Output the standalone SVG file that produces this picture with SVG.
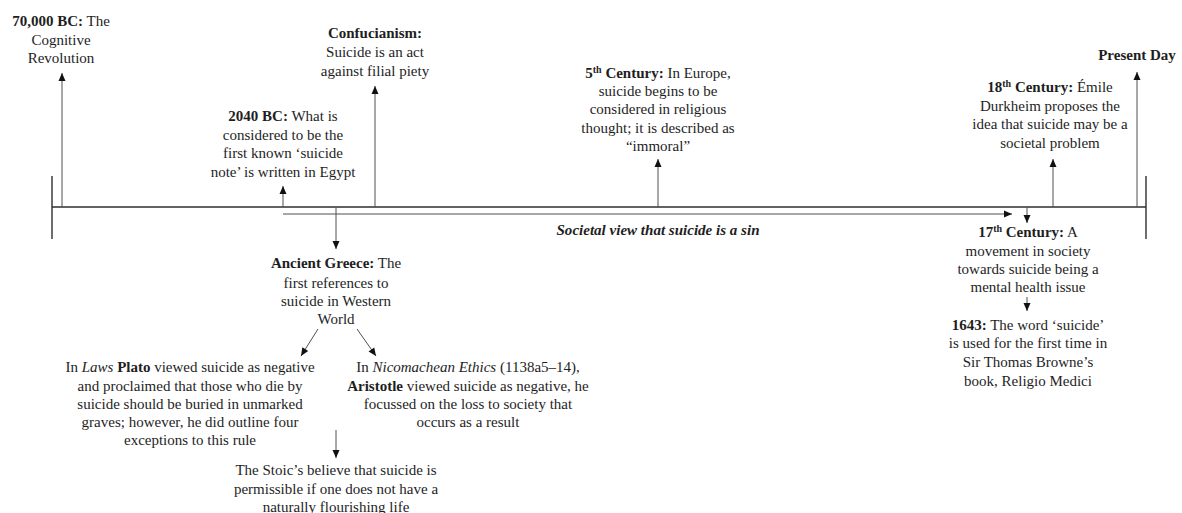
<svg xmlns="http://www.w3.org/2000/svg" width="1182" height="513" viewBox="0 0 1182 513">
  <style>
    text { font-family: "Liberation Serif", "Times New Roman", serif; font-size: 15px; fill: #1e1e1e; text-anchor: middle; }
    .b { font-weight: bold; }
    .i { font-style: italic; }
    .sup { font-size: 10px; }
    .axis { stroke: #2e2e2e; stroke-width: 1.4; fill: none; }
    .arr { stroke: #505050; stroke-width: 1; fill: none; marker-end: url(#head); }
    .era { stroke: #505050; stroke-width: 1.2; fill: none; marker-end: url(#head); }
  </style>
  <defs>
    <marker id="head" markerUnits="userSpaceOnUse" markerWidth="10" markerHeight="10" viewBox="0 0 10 10" refX="9" refY="5" orient="auto">
      <path d="M1,1.5 L9,5 L1,8.5 Z" fill="#111"/>
    </marker>
  </defs>

  <!-- timeline axis and end ticks -->
  <g id="axis">
    <line class="axis" x1="52" y1="207" x2="1146" y2="207"/>
    <line class="axis" x1="52" y1="176" x2="52" y2="239"/>
    <line class="axis" x1="1146" y1="176" x2="1146" y2="239"/>
  </g>

  <!-- connectors -->
  <g id="connectors">
    <line class="era" x1="283" y1="214" x2="1012" y2="214"/>
    <line class="arr" x1="62" y1="207" x2="62" y2="73"/>
    <line class="arr" x1="283" y1="207" x2="283" y2="186"/>
    <line class="arr" x1="375" y1="207" x2="375" y2="86"/>
    <line class="arr" x1="336" y1="207" x2="336" y2="249"/>
    <line class="arr" x1="318" y1="329" x2="301" y2="356"/>
    <line class="arr" x1="357" y1="329" x2="376" y2="356"/>
    <line class="arr" x1="336" y1="430" x2="336" y2="458"/>
    <line class="arr" x1="658" y1="207" x2="658" y2="159"/>
    <line class="arr" x1="1053" y1="207" x2="1053" y2="159"/>
    <line class="arr" x1="1137" y1="207" x2="1137" y2="72"/>
    <line class="arr" x1="1027" y1="207" x2="1027" y2="223"/>
    <line class="arr" x1="1027" y1="297" x2="1027" y2="311"/>
  </g>

  <g id="era-label">
    <text class="b i" x="658" y="235" textLength="203" lengthAdjust="spacingAndGlyphs">Societal view that suicide is a sin</text>
  </g>

  <g id="n-70000bc">
    <text x="61" y="26"><tspan class="b">70,000 BC:</tspan> The</text>
    <text x="61" y="44.5">Cognitive</text>
    <text x="61" y="63">Revolution</text>
  </g>

  <g id="n-2040bc">
    <text x="283" y="121"><tspan class="b">2040 BC:</tspan> What is</text>
    <text x="283" y="140">considered to be the</text>
    <text x="283" y="158">first known ‘suicide</text>
    <text x="283" y="177">note’ is written in Egypt</text>
  </g>

  <g id="n-confucianism">
    <text class="b" x="375" y="38">Confucianism:</text>
    <text x="375" y="57">Suicide is an act</text>
    <text x="375" y="76">against filial piety</text>
  </g>

  <g id="n-5th">
    <text x="658" y="78"><tspan class="b">5</tspan><tspan class="b sup" dy="-5">th</tspan><tspan class="b" dy="5"> Century:</tspan> In Europe,</text>
    <text x="658" y="96">suicide begins to be</text>
    <text x="658" y="114">considered in religious</text>
    <text x="658" y="133">thought; it is described as</text>
    <text x="658" y="151">“immoral”</text>
  </g>

  <g id="n-18th">
    <text x="1050" y="92"><tspan class="b">18</tspan><tspan class="b sup" dy="-5">th</tspan><tspan class="b" dy="5"> Century:</tspan> Émile</text>
    <text x="1050" y="111">Durkheim proposes the</text>
    <text x="1050" y="129">idea that suicide may be a</text>
    <text x="1050" y="148">societal problem</text>
  </g>

  <g id="n-present">
    <text class="b" x="1137" y="60">Present Day</text>
  </g>

  <g id="n-17th">
    <text x="1028" y="237"><tspan class="b">17</tspan><tspan class="b sup" dy="-5">th</tspan><tspan class="b" dy="5"> Century:</tspan> A</text>
    <text x="1028" y="256">movement in society</text>
    <text x="1028" y="274">towards suicide being a</text>
    <text x="1028" y="292">mental health issue</text>
  </g>

  <g id="n-1643">
    <text x="1028" y="330"><tspan class="b">1643:</tspan> The word ‘suicide’</text>
    <text x="1028" y="348">is used for the first time in</text>
    <text x="1028" y="367">Sir Thomas Browne’s</text>
    <text x="1028" y="386">book, Religio Medici</text>
  </g>

  <g id="n-greece">
    <text x="336" y="268"><tspan class="b">Ancient Greece:</tspan> The</text>
    <text x="336" y="288">first references to</text>
    <text x="336" y="306">suicide in Western</text>
    <text x="336" y="324">World</text>
  </g>

  <g id="n-plato">
    <text x="190" y="372">In <tspan class="i">Laws</tspan> <tspan class="b">Plato</tspan> viewed suicide as negative</text>
    <text x="190" y="391">and proclaimed that those who die by</text>
    <text x="190" y="409">suicide should be buried in unmarked</text>
    <text x="190" y="427">graves; however, he did outline four</text>
    <text x="190" y="445">exceptions to this rule</text>
  </g>

  <g id="n-aristotle">
    <text x="468" y="372">In <tspan class="i">Nicomachean Ethics</tspan> (1138a5–14),</text>
    <text x="468" y="391"><tspan class="b">Aristotle</tspan> viewed suicide as negative, he</text>
    <text x="468" y="409">focussed on the loss to society that</text>
    <text x="468" y="427">occurs as a result</text>
  </g>

  <g id="n-stoic">
    <text x="336" y="475">The Stoic’s believe that suicide is</text>
    <text x="336" y="494">permissible if one does not have a</text>
    <text x="336" y="512">naturally flourishing life</text>
  </g>
</svg>
